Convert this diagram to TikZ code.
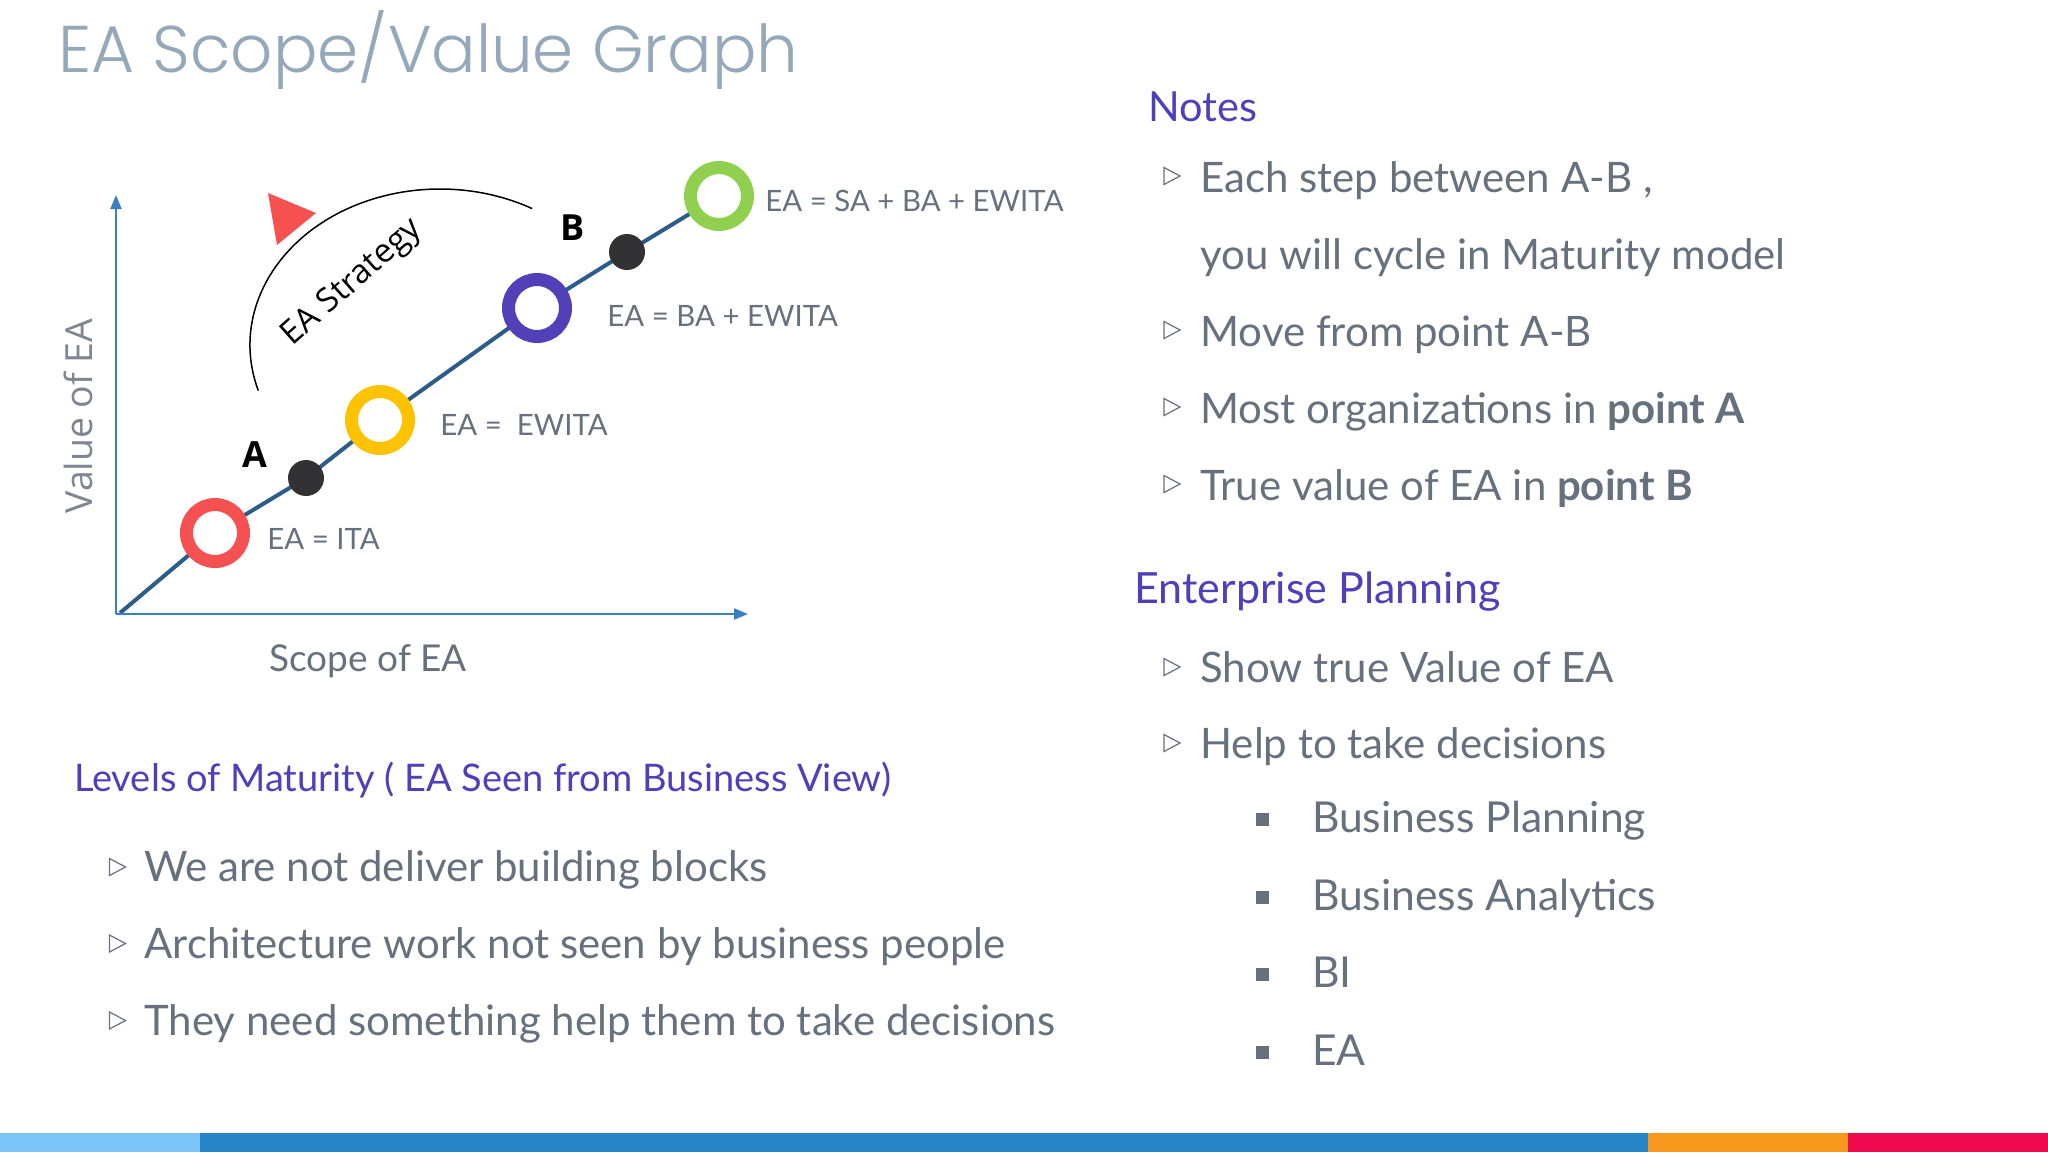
\documentclass[tikz,border=0pt]{standalone}
\usepackage{fontspec}
\setmainfont{Lato}
\newfontfamily\titlefont{Poppins Light}
\newfontfamily\osans{Open Sans}
\usetikzlibrary{arrows.meta,backgrounds}
\definecolor{titlecol}{HTML}{95A8BA}
\definecolor{txtgray}{HTML}{66717D}
\definecolor{headpurple}{HTML}{4E3FBA}
\definecolor{ringred}{HTML}{F55151}
\definecolor{ringyellow}{HTML}{FDC300}
\definecolor{ringpurple}{HTML}{5140B8}
\definecolor{ringgreen}{HTML}{8FD14F}
\definecolor{dotcol}{HTML}{323234}
\definecolor{trendcol}{HTML}{2C5D8A}
\definecolor{axiscol}{HTML}{3A80C0}
\definecolor{barlight}{HTML}{7CC6F7}
\definecolor{barblue}{HTML}{2585C7}
\definecolor{barorange}{HTML}{F7981D}
\definecolor{barred}{HTML}{EE0A4F}
\newcommand\bultri[2]{\draw[tribul] (#1-8,#2-8.5) -- (#1+8,#2) -- (#1-8,#2+8.5) -- cycle;}
\newcommand\bulsq[2]{\fill[txtgray] (#1-6.5,#2-6.5) rectangle (#1+6.5,#2+6.5);}
\begin{document}
\begin{tikzpicture}[x=0.5pt,y=-0.5pt,
  txt/.style={anchor=base west,inner sep=0,text=txtgray,font=\fontsize{21pt}{24pt}\selectfont},
  head/.style={anchor=base west,inner sep=0,text=headpurple,font=\fontsize{21pt}{24pt}\selectfont},
  lab/.style={anchor=base west,inner sep=0,text=txtgray,font=\fontsize{14.7pt}{16pt}\selectfont},
  ring/.style={circle,inner sep=0,minimum size=28.5pt,line width=6.5pt,fill=white},
  blackdot/.style={circle,inner sep=0,minimum size=18pt,fill=dotcol},
  trend/.style={draw=trendcol,line width=2pt},
  axis/.style={draw=axiscol,line width=1pt,-{Triangle[length=7pt,width=5.5pt]}},
  tribul/.style={draw=txtgray,line width=0.6pt,line join=miter},
  ptlabel/.style={anchor=base,inner sep=0,font=\osans\bfseries\fontsize{18pt}{20pt}\selectfont,text=black}]
\useasboundingbox (0,0) rectangle (2048,1152);

% title
\node[anchor=base west,inner sep=0,text=titlecol,font=\titlefont\fontsize{33pt}{38pt}\selectfont] (title) at (58,72) {EA Scope/Value Graph};

% axes
\coordinate (O) at (116,614);
\coordinate (ytip) at (116,195);
\coordinate (xtip) at (748,614);
\draw[axis] (O) -- (ytip);
\draw[axis] (O) -- (xtip);

% points
\coordinate (start) at (120,613);
\node[ring,draw=ringred] (c1) at (215,533) {};
\node[blackdot] (dA) at (306,478) {};
\node[ring,draw=ringyellow] (c2) at (380,420) {};
\node[ring,draw=ringpurple] (c3) at (537,308) {};
\node[blackdot] (dB) at (627,252) {};
\node[ring,draw=ringgreen] (c4) at (719,196) {};
\begin{scope}[on background layer]
\fill[white] (0,0) rectangle (2048,1152);
\draw[trend] (start) -- (c1.center) -- (dA.center) -- (c2.center) -- (c3.center) -- (dB.center) -- (c4.center);
\end{scope}

% point labels
\node[ptlabel] (lA) at (255,467) {A};
\node[ptlabel] (lB) at (573,240) {B};

% chart labels
\node[lab] (l1) at (267,549) {EA = ITA};
\node[lab] (l2) at (440,435.5) {EA =\ \ EWITA};
\node[lab] (l3) at (607,326.7) {EA = BA + EWITA};
\node[lab] (l4) at (765,211) {EA = SA + BA + EWITA};

% strategy arc
\draw[black,line width=0.75pt] (440,345) ++(163:190 and 156) arc[start angle=163,end angle=299,x radius=190,y radius=156];
\fill[ringred] (268,193) -- (316,213) -- (277,245) -- cycle;
\node[anchor=base,inner sep=0,rotate=41.5,font=\osans\fontsize{16.5pt}{20pt}\selectfont,text=black] (strat) at (358,289) {EA Strategy};

% axis titles
\node[anchor=base,inner sep=0,rotate=90,font=\osans\fontsize{18.7pt}{20pt}\selectfont,text=txtgray!85] (vlab) at (92.6,416) {Value of EA};
\node[anchor=base west,inner sep=0,font=\fontsize{18.5pt}{20pt}\selectfont,text=txtgray] (slab) at (269,671) {Scope of EA};

% Notes
\node[head,font=\fontsize{20.75pt}{24pt}\selectfont] (notes) at (1148,121) {Notes};
\bultri{1172}{176}
\node[txt] (n1) at (1200,192) {Each step between A-B ,};
\node[txt] (n2) at (1200,269) {you will cycle in Maturity model};
\bultri{1172}{330}
\node[txt] (n3) at (1200,346) {Move from point A-B};
\bultri{1172}{407}
\node[txt] (n4) at (1200,423) {Most organizations in \textbf{point A}};
\bultri{1172}{484}
\node[txt] (n5) at (1200,500) {True value of EA in \textbf{point B}};

% Enterprise planning
\node[head,font=\fontsize{21.5pt}{24pt}\selectfont] (ep) at (1134,603.6) {Enterprise Planning};
\bultri{1172}{667}
\node[txt] (e1) at (1200,682.5) {Show true Value of EA};
\bultri{1172}{743}
\node[txt] (e2) at (1200,758.6) {Help to take decisions};
\bulsq{1262.5}{819.7}
\node[txt,font=\fontsize{21.3pt}{24pt}\selectfont] (s1) at (1311.6,832.7) {Business Planning};
\bulsq{1262.5}{897.8}
\node[txt,font=\fontsize{21.3pt}{24pt}\selectfont] (s2) at (1311.6,910.8) {Business Analytics};
\bulsq{1262.5}{974}
\node[txt,font=\fontsize{21.3pt}{24pt}\selectfont] (s3) at (1311.6,987) {BI};
\bulsq{1262.5}{1052}
\node[txt,font=\fontsize{21.3pt}{24pt}\selectfont] (s4) at (1311.6,1065) {EA};

% Levels of maturity
\node[head,font=\fontsize{19pt}{22pt}\selectfont] (lev) at (73.7,791.7) {Levels of Maturity ( EA Seen from Business View)};
\bultri{117.5}{867}
\node[txt] (m1) at (144,881.7) {We are not deliver building blocks};
\bultri{117.5}{943.5}
\node[txt] (m2) at (144,958) {Architecture work not seen by business people};
\bultri{117.5}{1020.5}
\node[txt] (m3) at (144,1035) {They need something help them to take decisions};

% bottom bar
\fill[barlight] (0,1133) rectangle (200,1152);
\fill[barblue] (200,1133) rectangle (1648,1152);
\fill[barorange] (1648,1133) rectangle (1848,1152);
\fill[barred] (1848,1133) rectangle (2048,1152);
\end{tikzpicture}
\end{document}
